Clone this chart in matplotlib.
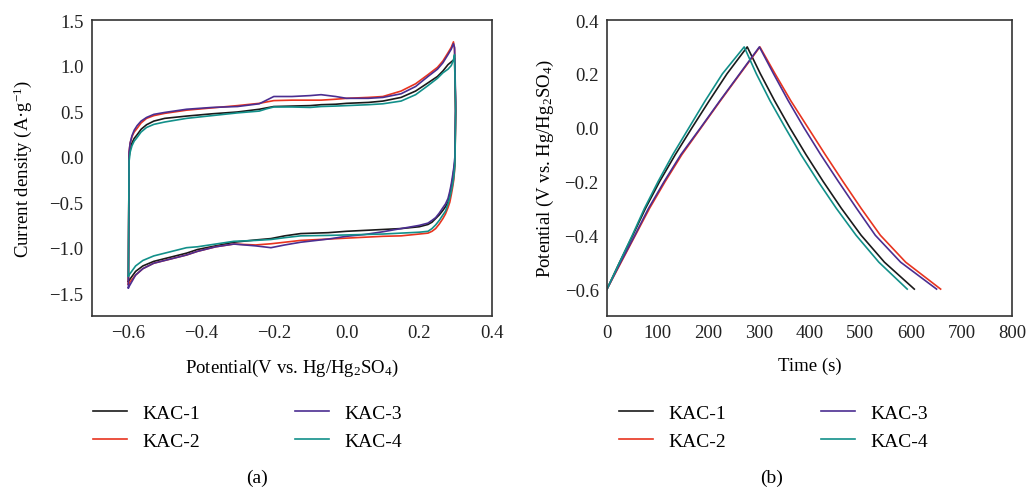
import numpy as np
import matplotlib
matplotlib.use("Agg")
import matplotlib.pyplot as plt

plt.rcParams['font.family'] = ['Liberation Serif', 'DejaVu Serif']
plt.rcParams['mathtext.fontset'] = 'custom'
plt.rcParams['mathtext.rm'] = 'Liberation Serif'
plt.rcParams['mathtext.it'] = 'Liberation Serif:italic'

LABELS = ["KAC-1", "KAC-2", "KAC-3", "KAC-4"]
COLORS = ["#1a1a1a", "#e8341f", "#4b2e91", "#12908a"]

# ---------------- CV data (a) ----------------
E_ANODIC = [-0.600, -0.598, -0.595, -0.590, -0.584, -0.576, -0.565, -0.55, -0.53, -0.50,
            -0.44, -0.37, -0.30, -0.24, -0.22, -0.20, -0.15, -0.10, -0.07, -0.03,
            0.00, 0.06, 0.10, 0.15, 0.19, 0.224, 0.25, 0.265, 0.279, 0.288, 0.294, 0.297]
E_CATHODIC = [0.300, 0.298, 0.295, 0.292, 0.288, 0.284, 0.279, 0.272, 0.265, 0.255,
              0.245, 0.235, 0.224, 0.20, 0.15, 0.10, 0.05, 0.00, -0.05, -0.126,
              -0.17, -0.208, -0.25, -0.31, -0.36, -0.41, -0.44, -0.48, -0.53, -0.56,
              -0.58, -0.600]

I_ANODIC_KAC1 = [-1.37, 0.00, 0.08, 0.15, 0.20, 0.24, 0.30, 0.35, 0.39, 0.42,
                 0.445, 0.47, 0.49, 0.52, 0.535, 0.55, 0.555, 0.56, 0.57, 0.575,
                 0.585, 0.595, 0.61, 0.65, 0.72, 0.81, 0.88, 0.94, 1.01, 1.04, 1.06, 1.08]
I_ANODIC_KAC2 = [-1.40, 0.05, 0.15, 0.22, 0.27, 0.31, 0.37, 0.42, 0.45, 0.475,
                 0.51, 0.535, 0.56, 0.585, 0.60, 0.615, 0.62, 0.62, 0.62, 0.63,
                 0.64, 0.65, 0.66, 0.72, 0.80, 0.90, 0.98, 1.05, 1.14, 1.20, 1.26, 1.18]
I_ANODIC_KAC3 = [-1.44, 0.05, 0.15, 0.23, 0.29, 0.34, 0.39, 0.43, 0.464, 0.485,
                 0.52, 0.54, 0.55, 0.58, 0.62, 0.66, 0.66, 0.67, 0.68, 0.66,
                 0.64, 0.64, 0.65, 0.69, 0.77, 0.88, 0.96, 1.03, 1.12, 1.18, 1.24, 1.20]
I_ANODIC_KAC4 = [-1.31, -0.05, 0.05, 0.12, 0.17, 0.21, 0.27, 0.32, 0.354, 0.38,
                 0.42, 0.45, 0.48, 0.50, 0.525, 0.545, 0.545, 0.54, 0.55, 0.555,
                 0.56, 0.57, 0.58, 0.61, 0.68, 0.78, 0.86, 0.92, 0.96, 1.00, 1.06, 1.12]

I_CATHODIC_KAC1 = [0.50, -0.05, -0.15, -0.24, -0.33, -0.41, -0.50, -0.55, -0.59, -0.64,
                   -0.68, -0.72, -0.745, -0.77, -0.79, -0.80, -0.81, -0.82, -0.835, -0.845,
                   -0.87, -0.90, -0.915, -0.94, -0.98, -1.02, -1.06, -1.10, -1.15, -1.20,
                   -1.26, -1.37]
I_CATHODIC_KAC2 = [0.50, -0.10, -0.25, -0.33, -0.42, -0.50, -0.56, -0.63, -0.68, -0.74,
                   -0.79, -0.82, -0.84, -0.85, -0.87, -0.875, -0.885, -0.895, -0.905, -0.92,
                   -0.94, -0.957, -0.97, -0.96, -0.99, -1.04, -1.08, -1.12, -1.17, -1.23,
                   -1.30, -1.40]
I_CATHODIC_KAC3 = [0.60, 0.00, -0.12, -0.20, -0.30, -0.38, -0.46, -0.52, -0.56, -0.62,
                   -0.67, -0.70, -0.73, -0.755, -0.79, -0.825, -0.855, -0.875, -0.905, -0.94,
                   -0.97, -1.00, -0.98, -0.96, -0.99, -1.04, -1.08, -1.12, -1.17, -1.23,
                   -1.30, -1.44]
I_CATHODIC_KAC4 = [0.50, -0.10, -0.22, -0.30, -0.38, -0.45, -0.52, -0.60, -0.64, -0.70,
                   -0.75, -0.79, -0.82, -0.83, -0.84, -0.85, -0.855, -0.86, -0.865, -0.87,
                   -0.89, -0.91, -0.92, -0.93, -0.96, -0.99, -1.00, -1.04, -1.09, -1.14,
                   -1.20, -1.31]

# ---------------- GCD data (b) ----------------
# charge: time (s) at which each potential level is reached
V_CHARGE = [-0.6, -0.5, -0.4, -0.3, -0.2, -0.1, 0.0, 0.1, 0.2, 0.3]
T_CHARGE_KAC1 = [0, 25, 51, 76, 104, 135, 168, 202, 237, 277]
T_CHARGE_KAC2 = [0, 28, 56, 84, 115, 148, 186, 224, 263, 302]
T_CHARGE_KAC3 = [0, 27, 55, 82, 113, 146, 185, 223, 262, 301]
T_CHARGE_KAC4 = [0, 25, 50, 74, 101, 130, 162, 194, 228, 271]

# discharge
V_DISCHARGE = [0.3, 0.2, 0.1, 0.0, -0.1, -0.2, -0.3, -0.4, -0.5, -0.6]
T_DISCHARGE_KAC1 = [277, 303, 331, 361, 393, 427, 463, 502, 548, 607]
T_DISCHARGE_KAC2 = [302, 332, 363, 397, 431, 466, 502, 540, 590, 659]
T_DISCHARGE_KAC3 = [301, 329, 358, 389, 422, 457, 493, 530, 580, 651]
T_DISCHARGE_KAC4 = [269, 295, 322, 352, 383, 417, 453, 492, 537, 593]

cv_series = [
    (I_ANODIC_KAC1, I_CATHODIC_KAC1),
    (I_ANODIC_KAC2, I_CATHODIC_KAC2),
    (I_ANODIC_KAC3, I_CATHODIC_KAC3),
    (I_ANODIC_KAC4, I_CATHODIC_KAC4),
]
gcd_series = [
    (T_CHARGE_KAC1, T_DISCHARGE_KAC1),
    (T_CHARGE_KAC2, T_DISCHARGE_KAC2),
    (T_CHARGE_KAC3, T_DISCHARGE_KAC3),
    (T_CHARGE_KAC4, T_DISCHARGE_KAC4),
]

W, H = 1028, 489
fig = plt.figure(figsize=(W / 100, H / 100), dpi=100)
axA = fig.add_axes([92 / W, 1 - 317 / H, 400 / W, 296 / H])
axB = fig.add_axes([607 / W, 1 - 317 / H, 405 / W, 296 / H])

LW = 1.2
TICK_FS = 13.5
LABEL_FS = 13.5

for lab, col, (ia, ic) in zip(LABELS, COLORS, cv_series):
    e = np.concatenate([E_ANODIC, E_CATHODIC])
    i = np.concatenate([ia, ic])
    axA.plot(e, i, color=col, lw=LW, label=lab)

for lab, col, (tc, td) in zip(LABELS, COLORS, gcd_series):
    t = np.concatenate([tc, td[1:]])
    v = np.concatenate([V_CHARGE, V_DISCHARGE[1:]])
    axB.plot(t, v, color=col, lw=LW, label=lab)

axA.set_xlim(-0.7, 0.4)
axA.set_ylim(-1.75, 1.5)
axA.set_xticks([-0.6, -0.4, -0.2, 0.0, 0.2, 0.4])
axA.set_yticks([-1.5, -1.0, -0.5, 0.0, 0.5, 1.0, 1.5])
axA.set_xticklabels(["\u22120.6", "\u22120.4", "\u22120.2", "0.0", "0.2", "0.4"])
axA.set_yticklabels(["\u22121.5", "\u22121.0", "\u22120.5", "0.0", "0.5", "1.0", "1.5"])
axA.set_xlabel("Potential(V vs. Hg/Hg$_2$SO$_4$)", fontsize=LABEL_FS, labelpad=11)
axA.set_ylabel("Current density (A\u00b7g$^{-1}$)", fontsize=LABEL_FS, labelpad=11)

axB.set_xlim(0, 800)
axB.set_ylim(-0.7, 0.4)
axB.set_xticks([0, 100, 200, 300, 400, 500, 600, 700, 800])
axB.set_yticks([-0.6, -0.4, -0.2, 0.0, 0.2, 0.4])
axB.set_yticklabels(["\u22120.6", "\u22120.4", "\u22120.2", "0.0", "0.2", "0.4"])
axB.set_xlabel("Time (s)", fontsize=LABEL_FS, labelpad=11)
axB.set_ylabel("Potential (V vs. Hg/Hg$_2$SO$_4$)", fontsize=LABEL_FS, labelpad=6)

for ax in (axA, axB):
    ax.tick_params(length=0, pad=6, labelsize=TICK_FS, colors="#222222")
    for s in ax.spines.values():
        s.set_color("#333333")
        s.set_linewidth(1.2)

LEG_FS = 14
for ax, x0 in ((axA, 93), (axB, 619)):
    h, l = ax.get_legend_handles_labels()
    fig.legend(h, l, loc="upper left", bbox_to_anchor=(x0 / W, 1 - 405 / H),
               ncol=2, frameon=False, fontsize=LEG_FS, handlelength=1.75,
               handletextpad=0.8, columnspacing=4.85, labelspacing=0.55,
               borderpad=0, borderaxespad=0)

fig.text(257 / W, 1 - 478 / H, "(a)", ha="center", va="center", fontsize=14)
fig.text(772 / W, 1 - 478 / H, "(b)", ha="center", va="center", fontsize=14)

fig.savefig("out.png", dpi=100)
